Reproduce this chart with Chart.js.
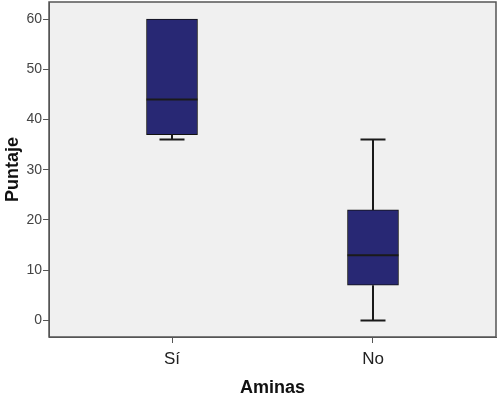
<!DOCTYPE html>
<html>
<head>
<meta charset="utf-8">
<script src="https://cdn.jsdelivr.net/npm/chart.js@4"></script>
<style>
html,body{margin:0;padding:0;background:#fff;}
#wrap{width:498px;height:399px;}
</style>
</head>
<body>
<div id="wrap"><canvas id="c" width="498" height="399"></canvas></div>
<script>
const categories = ["Sí", "No"];
const mins    = [36, 0];
const q1s     = [37, 7];
const medians = [44, 13];
const q3s     = [60, 22];
const maxs    = [60, 36];
const yTicks  = [0, 10, 20, 30, 40, 50, 60];

const boxColor = "rgb(40,40,116)";
const lineColor = "#1a1a1a";

const boxData = categories.map((c, i) => ({x: i, y: [q1s[i], q3s[i]]}));

const boxPlugin = {
  id: "boxExtras",
  beforeDraw(chart) {
    const {ctx, chartArea: a} = chart;
    ctx.save();
    ctx.fillStyle = "#f0f0f0";
    ctx.fillRect(a.left, a.top, a.right - a.left, a.bottom - a.top);
    ctx.restore();
  },
  afterDatasetsDraw(chart) {
    const {ctx, chartArea: a} = chart;
    const xs = chart.scales.x, ys = chart.scales.y;
    const boxHalf = 25.5, capHalf = 12.5;
    ctx.save();
    ctx.strokeStyle = lineColor;
    ctx.lineWidth = 2;
    categories.forEach((c, i) => {
      const cx = xs.getPixelForValue(i);
      const yMin = ys.getPixelForValue(mins[i]);
      const yQ1 = ys.getPixelForValue(q1s[i]);
      const yMed = ys.getPixelForValue(medians[i]);
      const yQ3 = ys.getPixelForValue(q3s[i]);
      const yMax = ys.getPixelForValue(maxs[i]);
      ctx.beginPath();
      ctx.moveTo(cx, yQ1); ctx.lineTo(cx, yMin);
      ctx.moveTo(cx - capHalf, yMin); ctx.lineTo(cx + capHalf, yMin);
      if (maxs[i] > q3s[i]) {
        ctx.moveTo(cx, yQ3); ctx.lineTo(cx, yMax);
        ctx.moveTo(cx - capHalf, yMax); ctx.lineTo(cx + capHalf, yMax);
      }
      ctx.moveTo(cx - boxHalf, yMed); ctx.lineTo(cx + boxHalf, yMed);
      ctx.stroke();
    });
    ctx.strokeStyle = "#555";
    ctx.lineWidth = 1.5;
    ctx.strokeRect(a.left, a.top, a.right - a.left, a.bottom - a.top);
    ctx.restore();
  }
};

new Chart(document.getElementById("c"), {
  type: "bar",
  data: {
    datasets: [{
      data: boxData,
      backgroundColor: boxColor,
      borderColor: "#111",
      borderWidth: 1,
      borderSkipped: false,
      barThickness: 51
    }]
  },
  options: {
    responsive: false,
    animation: false,
    devicePixelRatio: 1,
    layout: {padding: {top: 2, right: 2, left: 0, bottom: 0}},
    plugins: {legend: {display: false}, tooltip: {enabled: false}},
    scales: {
      x: {
        type: "linear",
        offset: false,
        min: -0.612,
        max: 1.612,
        afterBuildTicks(scale) {
          scale.ticks = categories.map((c, i) => ({value: i}));
        },
        ticks: {
          callback: (v) => categories[v],
          font: {family: "Liberation Sans", size: 17},
          color: "#222",
          padding: 6,
          maxRotation: 0
        },
        grid: {offset: false, drawOnChartArea: false, tickLength: 6, color: "#555", tickColor: "#555"},
        border: {display: true, color: "#555"},
        title: {
          display: true,
          text: "Aminas",
          font: {family: "Liberation Sans", size: 18, weight: "bold"},
          color: "#111",
          padding: {top: 8, bottom: 0}
        },
        afterFit(scale) { scale.height = 62; scale.paddingLeft = 0; scale.paddingRight = 0; }
      },
      y: {
        min: -3.3,
        max: 63.4,
        afterBuildTicks(scale) {
          scale.ticks = yTicks.map(v => ({value: v}));
        },
        ticks: {
          font: {family: "Liberation Sans", size: 14},
          color: "#444",
          padding: 1
        },
        grid: {drawOnChartArea: false, tickLength: 6, color: "#555", tickColor: "#555"},
        border: {display: true, color: "#555"},
        title: {
          display: true,
          text: "Puntaje",
          font: {family: "Liberation Sans", size: 18, weight: "bold"},
          color: "#111",
          padding: {top: 2, bottom: 2}
        },
        afterFit(scale) { scale.width = 49; scale.paddingTop = 0; scale.paddingBottom = 0; }
      }
    }
  },
  plugins: [boxPlugin]
});
</script>
</body>
</html>
